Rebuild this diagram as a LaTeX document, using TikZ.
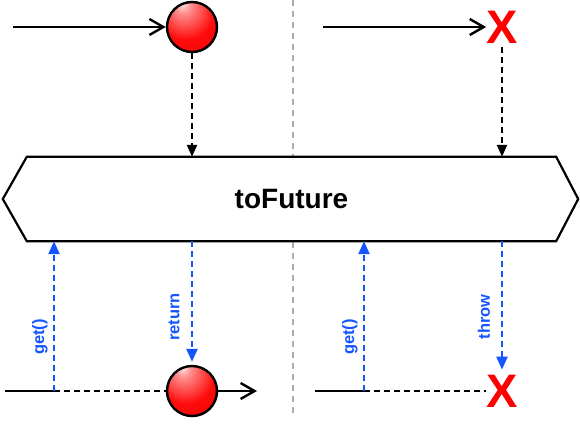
\documentclass[tikz,border=0pt]{standalone}
\usepackage{fontspec}
\setsansfont{Liberation Sans}
\usetikzlibrary{arrows.meta,shadows,calc,backgrounds}
\definecolor{flowblue}{RGB}{20,85,255}
\definecolor{divgray}{RGB}{172,172,172}
\definecolor{xred}{RGB}{255,0,0}
\pgfdeclareradialshading{redball}{\pgfpoint{-10bp}{24bp}}{%
  color(0bp)=(white!92!red);
  color(8bp)=(red!45!white);
  color(28bp)=(red!95!white);
  color(50bp)=(red!92!black);
  color(78bp)=(red!70!black)}
\begin{document}
\begin{tikzpicture}[x=1pt,y=-1pt,
  timeline/.style={line width=2.4pt, black},
  flowarrow/.style={line width=2.4pt, black, -{Straight Barb[length=14pt,width=16pt]}},
  dashedline/.style={line width=2.4pt, black, dash pattern=on 6pt off 4pt},
  emitarrow/.style={line width=2.4pt, black, dash pattern=on 6pt off 4pt, -{Triangle[length=12pt,width=10pt]}},
  callarrow/.style={line width=2.4pt, flowblue, dash pattern=on 6pt off 4pt, -{Triangle[length=13pt,width=11pt]}},
  divider/.style={line width=2.2pt, divgray, dash pattern=on 6pt off 5pt},
  hexline/.style={line width=2.2pt, black, fill=white, line join=miter},
  ball/.style={circle, minimum size=50pt, inner sep=0pt, draw=black, line width=2.4pt, shading=redball,
    drop shadow={opacity=0.25, shadow xshift=1pt, shadow yshift=-1.5pt}},
  xmark/.style={font=\sffamily\bfseries\fontsize{47}{47}\selectfont, text=xred, inner sep=0pt},
  lbl/.style={font=\sffamily\bfseries\fontsize{16.5}{16.5}\selectfont, text=flowblue, rotate=90, inner sep=0pt},
  opname/.style={font=\sffamily\bfseries\fontsize{28}{28}\selectfont, inner sep=0pt, minimum width=529pt, minimum height=84pt}
]
\useasboundingbox (0,0) rectangle (580,423);

% operator box
\node[opname] (op) at (291.5,199) {toFuture};
\begin{pgfonlayer}{background}
  \draw[divider] (293,0) -- (293,416);
  \draw[hexline] (op.north west) -- (op.north east) -- ($(op.east)+(22,0)$) -- (op.south east)
     -- (op.south west) -- ($(op.west)+(-24,0)$) -- cycle;
\end{pgfonlayer}

% top left
\coordinate (a1) at (13,27);
\node[ball] (b1) at (192,27) {};
\draw[flowarrow] (a1) -- (b1.west);
\draw[emitarrow] (b1.south) -- (b1 |- op.north);

% top right
\coordinate (a2) at (323,27);
\node[xmark] (x1) at (502,27) {X};
\draw[flowarrow] (a2) -- (a2 -| x1.west);
\draw[emitarrow] ([yshift=-4pt]x1.south) -- (x1 |- op.north);

% bottom left
\coordinate (s1) at (5,391);
\coordinate (g1) at (54,391);
\coordinate (e1) at (257,391);
\node[ball] (b2) at (192,391) {};
\draw[timeline] (s1) -- (g1);
\draw[dashedline] (g1) -- (b2.west);
\draw[flowarrow] (b2.east) -- (e1);
\draw[callarrow] (g1) -- (g1 |- op.south);
\draw[callarrow] (b2 |- op.south) -- ([yshift=3pt]b2.north);
\node[lbl] (lg1) at (40,337) {get()};
\node[lbl] (lr) at (174,317) {return};

% bottom right
\coordinate (s2) at (315,391);
\coordinate (g2) at (364,391);
\node[xmark] (x2) at (502,391) {X};
\draw[timeline] (s2) -- (g2);
\draw[dashedline] (g2) -- (g2 -| x2.west);
\draw[callarrow] (g2) -- (g2 |- op.south);
\draw[callarrow] (x2 |- op.south) -- ([yshift=5pt]x2.north);
\node[lbl] (lg2) at (350,337) {get()};
\node[lbl] (lt) at (484,317) {throw};
\end{tikzpicture}
\end{document}
